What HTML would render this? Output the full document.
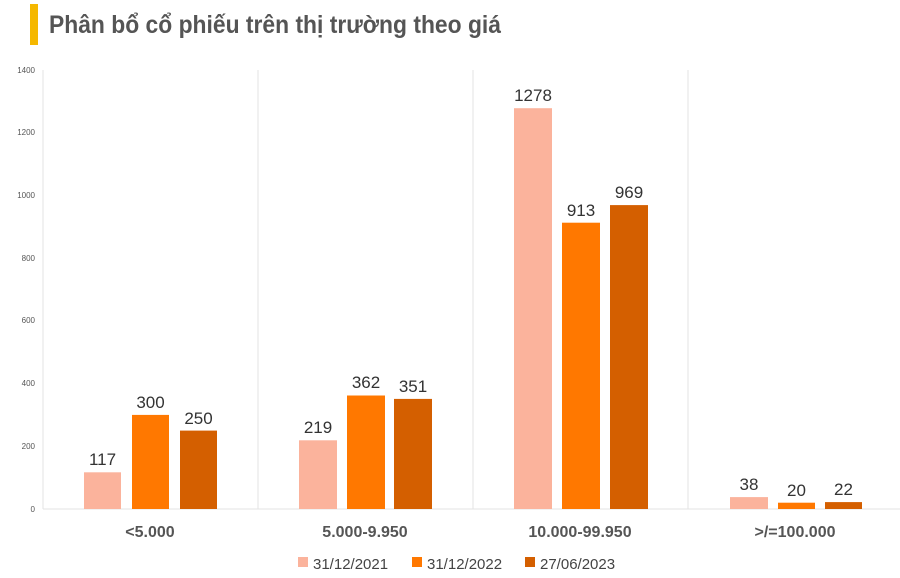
<!DOCTYPE html>
<html><head><meta charset="utf-8"><style>
body{margin:0;background:#fff;}
svg{display:block;font-family:"Liberation Sans",Calibri,sans-serif;}
</style></head><body>
<svg width="900" height="578" viewBox="0 0 900 578" xmlns="http://www.w3.org/2000/svg">
<rect x="30" y="4" width="8" height="41" fill="#F5B800"/>
<text x="49" y="33" font-size="25" font-weight="bold" fill="#555" textLength="452" lengthAdjust="spacingAndGlyphs">Phân bổ cổ phiếu trên thị trường theo giá</text>
<g stroke="#e3e3e3" stroke-width="1">
<line x1="43" y1="70" x2="43" y2="509"/>
<line x1="258" y1="70" x2="258" y2="509"/>
<line x1="473" y1="70" x2="473" y2="509"/>
<line x1="688" y1="70" x2="688" y2="509"/>
<line x1="43" y1="509" x2="900" y2="509"/>
</g>
<g font-size="8" fill="#555" text-anchor="end">
<text x="35" y="73">1400</text><text x="35" y="135">1200</text><text x="35" y="198">1000</text>
<text x="35" y="261">800</text><text x="35" y="323">600</text><text x="35" y="386">400</text>
<text x="35" y="449">200</text><text x="35" y="512">0</text>
</g>
<g>
<rect x="84" y="472.3" width="37" height="36.7" fill="#FBB39C"/>
<rect x="132" y="414.9" width="37" height="94.1" fill="#FF7800"/>
<rect x="180" y="430.6" width="37" height="78.4" fill="#D45F00"/>
<rect x="299" y="440.3" width="38" height="68.7" fill="#FBB39C"/>
<rect x="347" y="395.5" width="38" height="113.5" fill="#FF7800"/>
<rect x="394" y="398.9" width="38" height="110.1" fill="#D45F00"/>
<rect x="514" y="108.2" width="38" height="400.8" fill="#FBB39C"/>
<rect x="562" y="222.7" width="38" height="286.3" fill="#FF7800"/>
<rect x="610" y="205.1" width="38" height="303.9" fill="#D45F00"/>
<rect x="730" y="497.1" width="38" height="11.9" fill="#FBB39C"/>
<rect x="778" y="502.7" width="37" height="6.3" fill="#FF7800"/>
<rect x="825" y="502.1" width="37" height="6.9" fill="#D45F00"/>
</g>
<g font-size="17" fill="#333" text-anchor="middle">
<text x="102.5" y="465">117</text><text x="150.5" y="408">300</text><text x="198.5" y="424">250</text>
<text x="318" y="433">219</text><text x="366" y="388">362</text><text x="413" y="392">351</text>
<text x="533" y="101">1278</text><text x="581" y="216">913</text><text x="629" y="198">969</text>
<text x="749" y="490">38</text><text x="796.5" y="496">20</text><text x="843.5" y="495">22</text>
</g>
<g font-size="16" font-weight="bold" fill="#555" text-anchor="middle">
<text x="150" y="537">&lt;5.000</text>
<text x="365" y="537">5.000-9.950</text>
<text x="580" y="537">10.000-99.950</text>
<text x="795" y="537">&gt;/=100.000</text>
</g>
<g font-size="15" fill="#444">
<rect x="298" y="557" width="10" height="10" fill="#FBB39C"/><text x="313" y="569">31/12/2021</text>
<rect x="412" y="557" width="10" height="10" fill="#FF7800"/><text x="427" y="569">31/12/2022</text>
<rect x="525" y="557" width="10" height="10" fill="#D45F00"/><text x="540" y="569">27/06/2023</text>
</g>
</svg>
</body></html>
